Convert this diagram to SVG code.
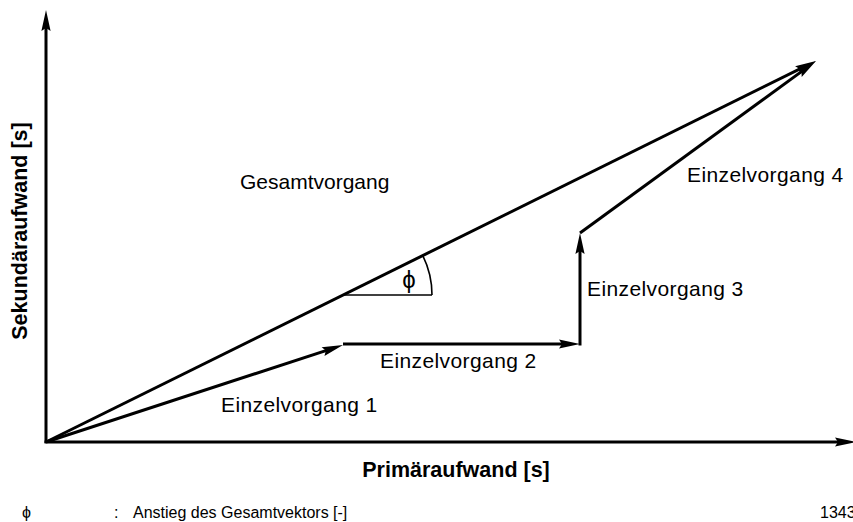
<svg xmlns="http://www.w3.org/2000/svg" width="853" height="522" viewBox="0 0 853 522">
  <style>
    .vec { stroke: #000; stroke-width: 3; fill: none; marker-end: url(#head); }
    .thin { stroke: #000; stroke-width: 1.6; fill: none; }
    .lbl { font-family: "Liberation Sans", Arial, sans-serif; font-size: 21px; letter-spacing: 0.4px; fill: #000; }
    .axis { font-family: "Liberation Sans", Arial, sans-serif; font-size: 21.5px; font-weight: bold; fill: #000; }
    .legend { font-family: "Liberation Sans", Arial, sans-serif; font-size: 16px; fill: #000; }
  </style>
  <defs>
    <!-- arrowhead: tip sits 10 units past the end of the line -->
    <marker id="head" markerUnits="userSpaceOnUse" markerWidth="30" markerHeight="14" viewBox="-12 -7 24 14" refX="0" refY="0" orient="auto" overflow="visible">
      <path d="M10,0 L-11,-4.6 L-8,0 L-11,4.6 Z" fill="#000"/>
    </marker>
  </defs>

  <!-- axes -->
  <g id="axes">
    <line class="vec" x1="46" y1="443" x2="46" y2="20"/>
    <line class="vec" x1="44.5" y1="442" x2="846" y2="442"/>
  </g>

  <!-- vectors -->
  <g id="connectors">
    <line id="gesamt" class="vec" x1="46" y1="442" x2="807" y2="65.4"/>
    <line id="einzel1" class="vec" x1="46" y1="442" x2="333.5" y2="348.1"/>
    <line id="einzel2" class="vec" x1="343" y1="344" x2="570" y2="344"/>
    <line id="einzel3" class="vec" x1="580" y1="345.5" x2="580" y2="243"/>
    <line id="einzel4" class="vec" x1="580" y1="233" x2="807.9" y2="66.9"/>
  </g>

  <!-- slope angle -->
  <g id="angle">
    <line class="thin" x1="343" y1="295" x2="432" y2="295"/>
    <path class="thin" d="M432,295 A89,89 0 0 0 422.8,255.6"/>
    <text class="lbl" x="409" y="288" style="font-size:24px;letter-spacing:0" text-anchor="middle">ϕ</text>
  </g>

  <!-- vector labels -->
  <g id="labels">
    <text class="lbl" x="240" y="189" style="letter-spacing:0">Gesamtvorgang</text>
    <text class="lbl" x="687" y="182">Einzelvorgang 4</text>
    <text class="lbl" x="587" y="296">Einzelvorgang 3</text>
    <text class="lbl" x="380" y="368">Einzelvorgang 2</text>
    <text class="lbl" x="221" y="412">Einzelvorgang 1</text>
  </g>

  <!-- axis titles -->
  <g id="axis-titles">
    <text class="axis" x="456" y="477" text-anchor="middle">Primäraufwand [s]</text>
    <text class="axis" x="0" y="0" text-anchor="middle" transform="translate(27,231) rotate(-90)">Sekundäraufwand [s]</text>
  </g>

  <!-- legend -->
  <g id="legend">
    <text class="legend" x="22" y="518">ϕ</text>
    <text class="legend" x="114" y="518">:</text>
    <text class="legend" x="133" y="518">Anstieg des Gesamtvektors [-]</text>
    <text class="legend" x="820" y="518">1343</text>
  </g>
</svg>
